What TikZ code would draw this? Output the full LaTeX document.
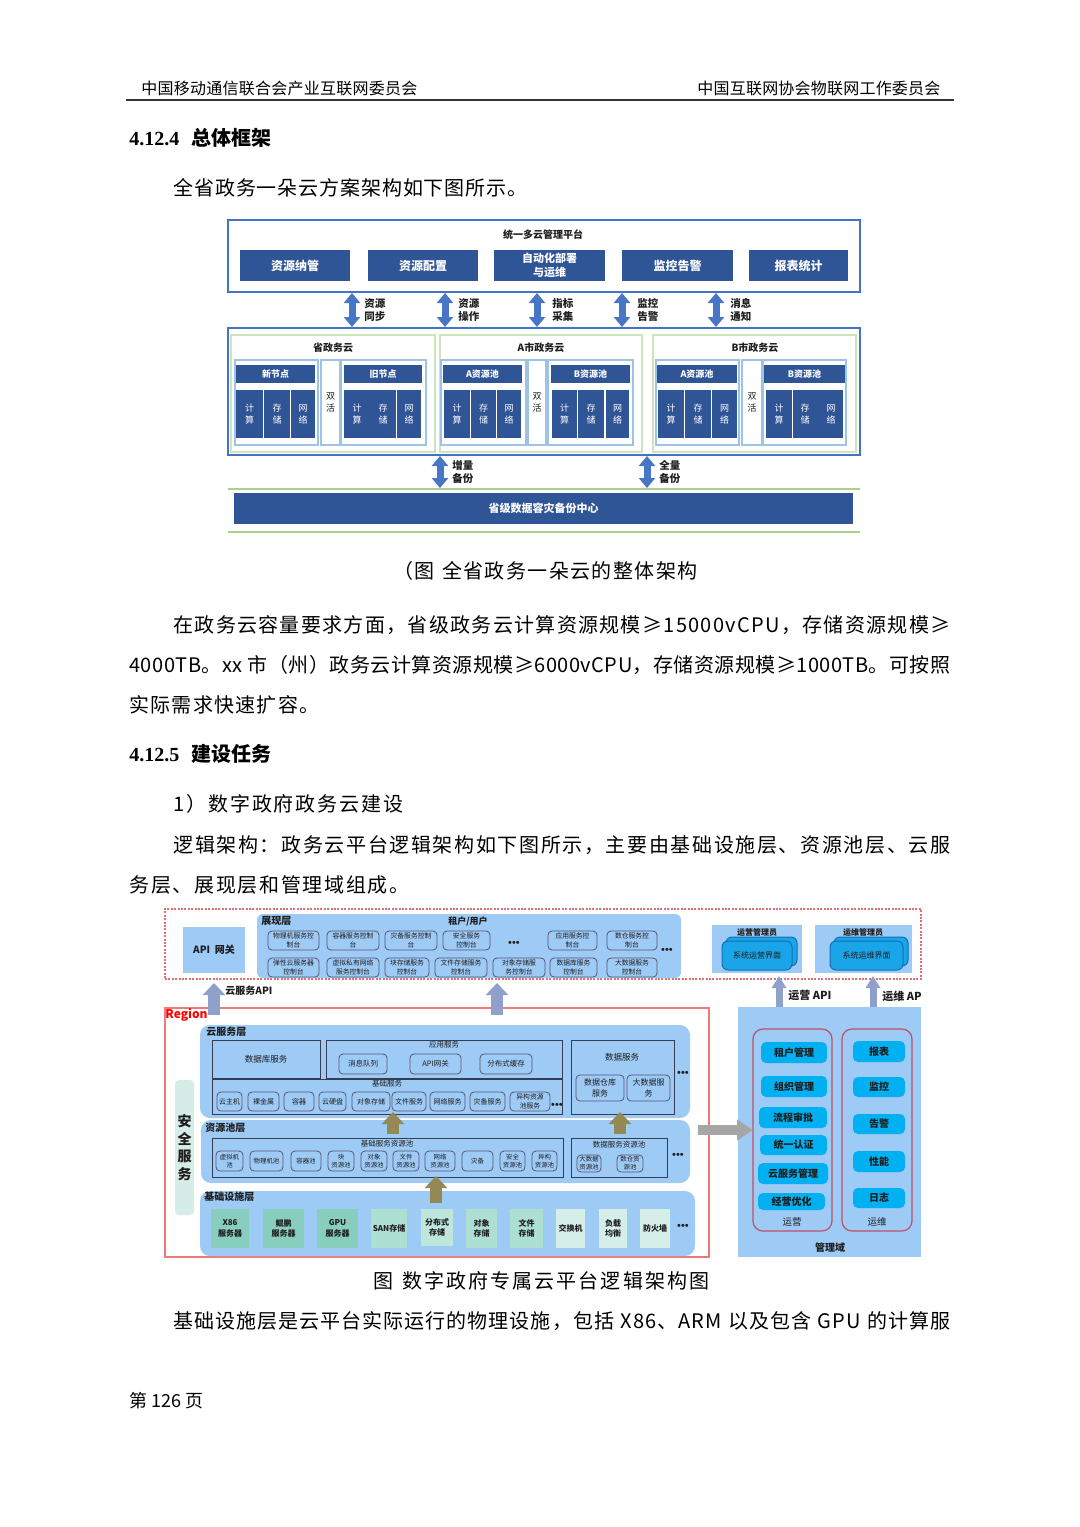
\documentclass[tikz,border=0pt]{standalone}
\usepackage{fontspec}
\setmainfont{Noto Sans CJK SC}
\newfontfamily\lser{Liberation Serif}
\usetikzlibrary{arrows.meta}
\definecolor{topblue}{RGB}{68,114,196}
\definecolor{dkblue}{RGB}{47,85,151}
\definecolor{arrblue}{RGB}{72,118,198}
\definecolor{grnline}{RGB}{169,209,142}
\definecolor{grpb}{RGB}{206,228,190}
\definecolor{panb}{RGB}{157,195,230}
\definecolor{lay}{RGB}{158,202,246}
\definecolor{conb}{RGB}{85,85,115}
\definecolor{subb}{RGB}{55,60,80}
\definecolor{uib}{RGB}{25,165,232}
\definecolor{uid}{RGB}{20,110,180}
\definecolor{cyanb}{RGB}{0,176,240}
\definecolor{mgred}{RGB}{190,80,100}
\definecolor{tealA}{RGB}{136,206,190}
\definecolor{tealB}{RGB}{174,223,211}
\definecolor{tealC}{RGB}{190,230,220}
\definecolor{tealD}{RGB}{214,238,232}
\definecolor{secg}{RGB}{214,236,230}
\definecolor{olv}{RGB}{148,137,84}
\definecolor{gblue}{RGB}{143,160,202}
\definecolor{garr}{RGB}{166,166,166}
\definecolor{reddot}{RGB}{225,110,110}
\definecolor{regred}{RGB}{240,120,120}
\definecolor{txt}{RGB}{30,30,30}
\newcommand\fs[1]{\fontsize{\fpeval{#1/2}pt}{\fpeval{#1*0.65}pt}\selectfont}
\makeatletter
\let\spr@end\relax
\newcommand\spreadto[2]{\makebox[#1][s]{\spr@first#2\spr@end}}
\def\spr@first#1{#1\spr@}
\def\spr@#1{\ifx#1\spr@end\else\hfil#1\expandafter\spr@\fi}
\makeatother
\newcommand\bx[7]{\pgfmathsetmacro\bxw{(#5-#3)/2}\pgfmathsetmacro\bxh{(#6-#4)/2}%
\node[inner sep=0pt,align=center,#2,minimum width=\bxw pt,minimum height=\bxh pt] (#1) at ({(#3+#5)/2},{(#4+#6)/2}) {#7};}
\newcommand\tdots{{\lser\bfseries •••}}
\tikzset{
  dk/.style={fill=dkblue,text=white,font=\fs{12}\bfseries},
  hdr/.style={fill=dkblue,text=white,font=\fs{9}\bfseries},
  sb/.style={fill=dkblue,text=white,font=\fs{9}},
  sbt/.style={text=white,font=\fs{9},align=center,inner sep=0pt},
  grp/.style={draw=grpb,line width=0.8pt},
  pan/.style={draw=panb,line width=0.6pt},
  lbl/.style={font=\fs{10.5}\bfseries,align=left,anchor=west,inner sep=0pt,text=txt},
  gtl/.style={font=\fs{10}\bfseries,inner sep=0pt,text=txt},
  dbl/.style={draw=arrblue,line width=3.5pt,{Triangle[length=5pt,width=8pt]}-{Triangle[length=5pt,width=8pt]}},
  body/.style={font=\fs{20},anchor=west,inner sep=0pt,text=black},
  con/.style={draw=conb,fill=lay,rounded corners=2pt,line width=0.4pt,font=\fontsize{3.4pt}{4.2pt}\selectfont,text=txt},
  layer/.style={fill=lay,rounded corners=5pt},
  ttl/.style={font=\fs{10}\bfseries,anchor=west,inner sep=0pt,text=txt},
  sub/.style={draw=subb,line width=0.5pt,font=\fs{8.5},text=txt},
  item/.style={draw=conb,line width=0.4pt,rounded corners=2pt,font=\fs{7.5},text=txt},
  pit/.style={draw=conb,line width=0.4pt,rounded corners=2pt,font=\fontsize{3.2pt}{4pt}\selectfont,text=txt},
  inf/.style={font=\fs{8}\bfseries,text=txt},
  dots/.style={font=\fs{11},inner sep=0pt,text=txt},
  stl/.style={font=\fs{7.5},inner sep=0pt,text=txt},
  up/.style={draw=gblue,line width=6pt,-{Triangle[length=6pt,width=11pt]}},
  upn/.style={draw=gblue,line width=3.5pt,-{Triangle[length=6pt,width=7pt]}},
  upo/.style={draw=olv,line width=6pt,-{Triangle[length=6pt,width=11pt]}},
  mgi/.style={fill=cyanb,rounded corners=2.5pt,font=\fs{10}\bfseries,text=txt},
  ui/.style={fill=uib,draw=uid,line width=0.5pt,rounded corners=3pt,font=\fs{8},text=txt},
}
\begin{document}
\begin{tikzpicture}[x=0.5pt,y=-0.5pt]
\useasboundingbox (0,0) rectangle (1080,1527);
\fill[white] (0,0) rectangle (1080,1527);
% ---------- header ----------
\node[body,font=\fs{16}] (h1) at (141,88) {\spreadto{138pt}{中国移动通信联合会产业互联网委员会}};
\node[body,font=\fs{16}] (h2) at (697,88) {\spreadto{121.5pt}{中国互联网协会物联网工作委员会}};
\coordinate (hl1) at (126,100); \coordinate (hl2) at (954,100);
\draw[line width=1pt,black!80] (hl1) -- (hl2);
\node[body,font=\fs{20}\bfseries] (t1) at (129,138) {{\lser 4.12.4}\hspace{6pt}总体框架};
\node[body] (p0) at (173,188) {\spreadto{177pt}{全省政务一朵云方案架构如下图所示。}};
% ---------- top diagram ----------
\bx{plat}{draw=topblue,line width=1pt}{228}{220}{860}{292}{}
\node[gtl] (platT) at (543,235) {统一多云管理平台};
\bx{m1}{dk}{240}{250}{350}{281}{资源纳管}
\bx{m2}{dk}{368}{250}{478}{281}{资源配置}
\bx{m3}{dk,font=\fs{11}\bfseries}{494}{250}{605}{281}{自动化部署\\与运维}
\bx{m4}{dk}{622}{250}{733}{281}{监控告警}
\bx{m5}{dk}{749}{250}{848}{281}{报表统计}
\bx{clouds}{draw=topblue,line width=1pt}{228}{328}{860}{455}{}
% double arrows
\coordinate (u1) at (352,293); \coordinate (d1) at (352,327);
\coordinate (u2) at (445,293); \coordinate (d2) at (445,327);
\coordinate (u3) at (537,293); \coordinate (d3) at (537,327);
\coordinate (u4) at (622,293); \coordinate (d4) at (622,327);
\coordinate (u5) at (716,293); \coordinate (d5) at (716,327);
\draw[dbl] (u1) -- (d1); \draw[dbl] (u2) -- (d2); \draw[dbl] (u3) -- (d3);
\draw[dbl] (u4) -- (d4); \draw[dbl] (u5) -- (d5);
\node[lbl] (l1) at (364,310) {资源\\同步};
\node[lbl] (l2) at (458,310) {资源\\操作};
\node[lbl] (l3) at (552,310) {指标\\采集};
\node[lbl] (l4) at (637,310) {监控\\告警};
\node[lbl] (l5) at (730,310) {消息\\通知};
% groups
\bx{g1}{grp}{231}{335}{435}{452}{}
\bx{g2}{grp}{440}{335}{642}{452}{}
\bx{g3}{grp}{653}{335}{856}{452}{}
\node[gtl] (g1t) at (333,348) {省政务云};
\node[gtl] (g2t) at (541,348) {A市政务云};
\node[gtl] (g3t) at (755,348) {B市政务云};
% group 1
\bx{g1p1}{pan}{235}{360}{318}{445}{}
\bx{g1sa}{pan,font=\fs{9},text=txt}{321}{360}{340}{445}{双\\活}
\bx{g1p2}{pan}{341}{360}{426}{445}{}
\bx{g1h1}{hdr}{236}{365}{315}{383}{新节点}
\bx{g1h2}{hdr}{344}{365}{422}{383}{旧节点}
\bx{g1a}{sb}{236}{390}{263}{438}{计\\算}
\bx{g1b}{sb}{264}{390}{290}{438}{存\\储}
\bx{g1c}{sb}{291}{390}{315}{438}{网\\络}
\bx{g1d}{sb}{344}{390}{396}{438}{}
\node[sbt] (g1d1) at (357,414) {计\\算};
\node[sbt] (g1d2) at (383,414) {存\\储};
\bx{g1e}{sb}{397}{390}{421}{438}{网\\络}
% group 2
\bx{g2p1}{pan}{441}{360}{526}{445}{}
\bx{g2sa}{pan,font=\fs{9},text=txt}{528}{360}{546}{445}{双\\活}
\bx{g2p2}{pan}{548}{360}{633}{445}{}
\bx{g2h1}{hdr}{443}{365}{522}{383}{A资源池}
\bx{g2h2}{hdr}{551}{365}{630}{383}{B资源池}
\bx{g2a}{sb}{444}{390}{470}{438}{计\\算}
\bx{g2b}{sb}{471}{390}{496}{438}{存\\储}
\bx{g2c}{sb}{497}{390}{521}{438}{网\\络}
\bx{g2d}{sb}{552}{390}{577}{438}{计\\算}
\bx{g2e}{sb}{578}{390}{604}{438}{存\\储}
\bx{g2f}{sb}{606}{390}{629}{438}{网\\络}
% group 3
\bx{g3p1}{pan}{656}{360}{739}{445}{}
\bx{g3sa}{pan,font=\fs{9},text=txt}{742}{360}{762}{445}{双\\活}
\bx{g3p2}{pan}{763}{360}{846}{445}{}
\bx{g3h1}{hdr}{657}{365}{737}{383}{A资源池}
\bx{g3h2}{hdr}{764}{365}{845}{383}{B资源池}
\bx{g3a}{sb}{658}{390}{684}{438}{计\\算}
\bx{g3b}{sb}{685}{390}{711}{438}{存\\储}
\bx{g3c}{sb}{712}{390}{737}{438}{网\\络}
\bx{g3d}{sb}{766}{390}{792}{438}{计\\算}
\bx{g3e}{sb}{793}{390}{843}{438}{}
\node[sbt] (g3e1) at (805,414) {存\\储};
\node[sbt] (g3e2) at (831,414) {网\\络};
% backup
\coordinate (bu1) at (440,456); \coordinate (bd1) at (440,488);
\coordinate (bu2) at (647,456); \coordinate (bd2) at (647,488);
\draw[dbl] (bu1) -- (bd1); \draw[dbl] (bu2) -- (bd2);
\node[lbl] (bl1) at (452,472) {增量\\备份};
\node[lbl] (bl2) at (659,472) {全量\\备份};
\coordinate (gl1a) at (228,489); \coordinate (gl1b) at (860,489);
\coordinate (gl2a) at (228,532); \coordinate (gl2b) at (860,532);
\draw[grnline,line width=0.8pt] (gl1a) -- (gl1b);
\draw[grnline,line width=0.8pt] (gl2a) -- (gl2b);
\bx{bak}{dk,font=\fs{11}\bfseries}{234}{493}{853}{524}{省级数据容灾备份中心}
\node[body] (cap1) at (393,571) {\spreadto{152pt}{（图~全省政务一朵云的整体架构}};
% ---------- paragraph ----------
\node[body] (p1) at (173,625) {\spreadto{388.5pt}{在政务云容量要求方面，省级政务云计算资源规模≥15000vCPU，存储资源规模≥}};
\node[body] (p2) at (129,665) {\spreadto{410.5pt}{4000TB。xx~市（州）政务云计算资源规模≥6000vCPU，存储资源规模≥1000TB。可按照}};
\node[body] (p3) at (129,705) {\spreadto{95pt}{实际需求快速扩容。}};
\node[body,font=\fs{20}\bfseries] (t2) at (129,754) {{\lser 4.12.5}\hspace{6pt}建设任务};
\node[body] (p4) at (173,804) {\spreadto{115pt}{1）数字政府政务云建设}};
\node[body] (p5) at (173,845) {\spreadto{388.5pt}{逻辑架构：政务云平台逻辑架构如下图所示，主要由基础设施层、资源池层、云服}};
\node[body] (p6) at (129,885) {\spreadto{140pt}{务层、展现层和管理域组成。}};
% ---------- second diagram ----------
\bx{pres}{draw=reddot,dash pattern=on 1pt off 0.7pt,line width=0.6pt}{165}{909}{921}{979}{}
\bx{api}{fill=lay,font=\fs{10}\bfseries,text=txt}{183}{927}{245}{973}{API\ \ 网关}
\bx{zx}{fill=lay,rounded corners=3pt}{257}{914}{681}{978}{}
\node[ttl] (zxt) at (261,921) {展现层};
\node[gtl,font=\fs{9}\bfseries] (zxu) at (468,921) {租户/用户};
\bx{c1}{con}{268}{931}{319}{950}{物理机服务控\\制台}
\bx{c2}{con}{327}{931}{379}{950}{容器服务控制\\台}
\bx{c3}{con}{385}{931}{437}{950}{灾备服务控制\\台}
\bx{c4}{con}{443}{931}{490}{950}{安全服务\\控制台}
\node[dots] (cd1) at (514,944) {\tdots};
\bx{c5}{con}{548}{931}{597}{950}{应用服务控\\制台}
\bx{c6}{con}{607}{931}{657}{950}{数仓服务控\\制台}
\node[dots] (cd2) at (667,951) {\tdots};
\bx{c7}{con}{268}{958}{319}{977}{弹性云服务器\\控制台}
\bx{c8}{con}{327}{958}{379}{977}{虚拟私有网络\\服务控制台}
\bx{c9}{con}{385}{958}{429}{977}{块存储服务\\控制台}
\bx{c10}{con}{435}{958}{487}{977}{文件存储服务\\控制台}
\bx{c11}{con}{493}{958}{545}{977}{对象存储服\\务控制台}
\bx{c12}{con}{550}{958}{597}{977}{数据库服务\\控制台}
\bx{c13}{con}{607}{958}{657}{977}{大数据服务\\控制台}
% admins
\bx{op}{fill=lay}{712}{925}{802}{973}{}
\node[gtl,font=\fs{8}\bfseries] (opt) at (757,932) {运营管理员};
\bx{opb}{ui}{726}{937}{797}{966}{}
\bx{opui}{ui}{722}{941}{792}{970}{系统运营界面}
\bx{om}{fill=lay}{815}{925}{912}{973}{}
\node[gtl,font=\fs{8}\bfseries] (omt) at (863,932) {运维管理员};
\bx{omb}{ui}{834}{937}{908}{966}{}
\bx{omui}{ui}{830}{941}{903}{970}{系统运维界面}
% region
\bx{region}{draw=regred,line width=0.6pt}{165}{1008}{709}{1257}{}
\node[anchor=west,inner sep=0pt,font=\fs{12}\bfseries,text=red] (regt) at (165,1015) {Region};
% API arrows
\coordinate (a1b) at (214,1015); \coordinate (a1t) at (214,983);
\coordinate (a2b) at (497,1015); \coordinate (a2t) at (497,983);
\coordinate (a3b) at (779,1013); \coordinate (a3t) at (779,976);
\coordinate (a4b) at (873,1013); \coordinate (a4t) at (873,976);
\draw[up] (a1b) -- (a1t); \draw[up] (a2b) -- (a2t);
\draw[upn] (a3b) -- (a3t); \draw[upn] (a4b) -- (a4t);
\node[ttl] (a1l) at (225,991) {云服务API};
\begin{scope}
\clip (700,980) rectangle (921,1006);
\node[ttl,font=\fs{11}\bfseries] (a3l) at (788,995) {运营 API};
\node[ttl,font=\fs{11}\bfseries] (a4l) at (882,996) {运维 API};
\end{scope}
% security
\bx{sec}{fill=secg,rounded corners=2pt,font=\fontsize{7pt}{8.75pt}\selectfont\bfseries,text=txt}{175}{1080}{194}{1215}{安\\全\\服\\务}
% cloud service layer
\bx{yfw}{layer}{200}{1025}{690}{1118}{}
\node[ttl] (yfwt) at (206,1032) {云服务层};
\bx{dbs}{sub}{212}{1040}{320}{1078}{数据库服务}
\bx{apps}{sub}{326}{1040}{562}{1078}{}
\node[stl] (appst) at (444,1045) {应用服务};
\bx{ap1}{item}{339}{1054}{387}{1074}{消息队列}
\bx{ap2}{item}{410}{1054}{461}{1074}{API网关}
\bx{ap3}{item}{480}{1054}{532}{1074}{分布式缓存}
\bx{bases}{sub}{212}{1079}{562}{1114}{}
\node[stl] (basest) at (387,1084) {基础服务};
\bx{b1}{item,font=\fs{7}}{217}{1092}{242}{1111}{云主机}
\bx{b2}{item,font=\fs{7}}{248}{1092}{279}{1111}{裸金属}
\bx{b3}{item,font=\fs{7}}{284}{1092}{314}{1111}{容器}
\bx{b4}{item,font=\fs{7}}{319}{1092}{346}{1111}{云硬盘}
\bx{b5}{item,font=\fs{7}}{352}{1092}{390}{1111}{对象存储}
\bx{b6}{item,font=\fs{7}}{392}{1092}{426}{1111}{文件服务}
\bx{b7}{item,font=\fs{7}}{430}{1092}{465}{1111}{网络服务}
\bx{b8}{item,font=\fs{7}}{470}{1092}{505}{1111}{灾备服务}
\bx{b9}{pit,font=\fontsize{3.4pt}{4.2pt}\selectfont}{510}{1092}{550}{1111}{异构资源\\池服务}
\node[dots] (bd) at (557,1106) {\tdots};
\bx{ds}{sub}{571}{1040}{674}{1114}{}
\node[stl,font=\fs{8.5}] (dst) at (622,1057) {数据服务};
\bx{d1}{item,font=\fs{8}}{576}{1075}{624}{1101}{数据仓库\\服务}
\bx{d2}{item,font=\fs{8}}{627}{1075}{670}{1101}{大数据服\\务}
\node[dots] (dd) at (683,1074) {\tdots};
% resource pool layer
\bx{zyc}{layer}{201}{1120}{690}{1183}{}
\node[ttl] (zyct) at (205,1128) {资源池层};
\bx{jcp}{sub}{212}{1138}{563}{1177}{}
\node[stl] (jcpt) at (387,1144) {基础服务资源池};
\bx{r1}{pit}{216}{1151}{243}{1171}{虚拟机\\池}
\bx{r2}{pit}{250}{1151}{283}{1171}{物理机池}
\bx{r3}{pit}{291}{1151}{321}{1171}{容器池}
\bx{r4}{pit}{328}{1151}{354}{1171}{块\\资源池}
\bx{r5}{pit}{361}{1151}{387}{1171}{对象\\资源池}
\bx{r6}{pit}{393}{1151}{419}{1171}{文件\\资源池}
\bx{r7}{pit}{425}{1151}{455}{1171}{网络\\资源池}
\bx{r8}{pit}{462}{1151}{493}{1171}{灾备}
\bx{r9}{pit}{500}{1151}{525}{1171}{安全\\资源池}
\bx{r10}{pit}{532}{1151}{557}{1171}{异构\\资源池}
\bx{dsp}{sub}{571}{1138}{667}{1177}{}
\node[stl] (dspt) at (619,1145) {数据服务资源池};
\bx{s1}{pit}{577}{1155}{601}{1172}{大数据\\资源池}
\bx{s2}{pit}{617}{1155}{643}{1172}{数仓资\\源池}
\node[dots] (sd) at (678,1156) {\tdots};
% infrastructure layer
\bx{jcss}{layer}{200}{1191}{695}{1256}{}
\node[ttl] (jcsst) at (204,1197) {基础设施层};
\bx{i1}{inf,fill=tealA}{211}{1209}{249}{1248}{X86\\服务器}
\bx{i2}{inf,fill=tealA}{263}{1209}{304}{1248}{鲲鹏\\服务器}
\bx{i3}{inf,fill=tealA}{317}{1209}{358}{1248}{GPU\\服务器}
\bx{i4}{inf,fill=tealB}{371}{1209}{407}{1248}{SAN存储}
\bx{i5}{inf,fill=tealC}{421}{1209}{453}{1246}{分布式\\存储}
\bx{i6}{inf,fill=tealB}{466}{1209}{497}{1248}{对象\\存储}
\bx{i7}{inf,fill=tealB}{510}{1209}{543}{1248}{文件\\存储}
\bx{i8}{inf,fill=tealD}{556}{1209}{585}{1248}{交换机}
\bx{i9}{inf,fill=tealD}{599}{1209}{627}{1248}{负载\\均衡}
\bx{i10}{inf,fill=tealD}{640}{1209}{670}{1248}{防火墙}
\node[dots] (idd) at (683,1227) {\tdots};
% olive arrows
\coordinate (o1b) at (393,1134); \coordinate (o1t) at (393,1112);
\coordinate (o2b) at (620,1134); \coordinate (o2t) at (620,1112);
\coordinate (o3b) at (436,1203); \coordinate (o3t) at (436,1176);
\draw[upo] (o1b) -- (o1t); \draw[upo] (o2b) -- (o2t); \draw[upo] (o3b) -- (o3t);
% management domain
\bx{mg}{fill=lay}{738}{1007}{921}{1257}{}
\node[gtl] (mgt) at (830,1248) {管理域};
\bx{yy}{draw=mgred,rounded corners=5pt,line width=0.6pt}{753}{1029}{832}{1231}{}
\bx{yw}{draw=mgred,rounded corners=5pt,line width=0.6pt}{842}{1029}{912}{1231}{}
\node[gtl,font=\fs{9.5}] (yyt) at (792,1222) {运营};
\node[gtl,font=\fs{9.5}] (ywt) at (877,1222) {运维};
\bx{y1}{mgi}{761}{1042}{827}{1063}{租户管理}
\bx{y2}{mgi}{761}{1076}{827}{1097}{组织管理}
\bx{y3}{mgi}{759}{1107}{827}{1128}{流程审批}
\bx{y4}{mgi}{760}{1135}{827}{1155}{统一认证}
\bx{y5}{mgi}{758}{1163}{828}{1184}{云服务管理}
\bx{y6}{mgi}{758}{1193}{825}{1210}{经营优化}
\bx{w1}{mgi}{853}{1041}{905}{1062}{报表}
\bx{w2}{mgi}{853}{1077}{905}{1097}{监控}
\bx{w3}{mgi}{853}{1114}{905}{1134}{告警}
\bx{w4}{mgi}{853}{1151}{905}{1172}{性能}
\bx{w5}{mgi}{853}{1188}{905}{1208}{日志}
\coordinate (ga1) at (698,1130); \coordinate (ga2) at (753,1130);
\draw[draw=garr,line width=5pt,-{Triangle[length=8pt,width=10pt]}] (ga1) -- (ga2);
% caption and text
\node[body] (cap2) at (373,1281) {\spreadto{168pt}{图~数字政府专属云平台逻辑架构图}};
\node[body] (p7) at (173,1321) {\spreadto{388.5pt}{基础设施层是云平台实际运行的物理设施，包括~X86、ARM~以及包含~GPU~的计算服}};
\node[body,font=\fs{18}] (foot) at (129,1401) {第 126 页};
\end{tikzpicture}
\end{document}
